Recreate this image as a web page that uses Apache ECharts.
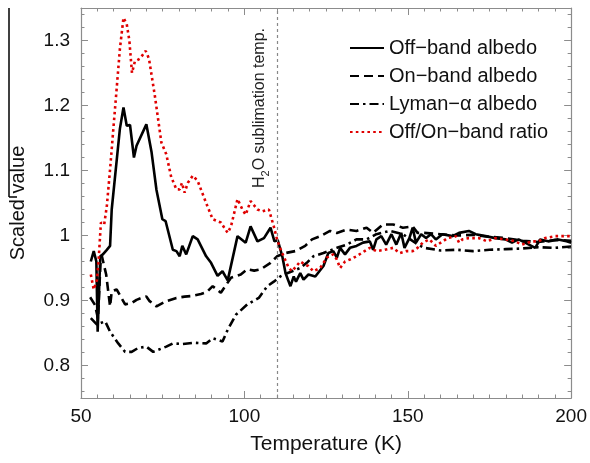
<!DOCTYPE html>
<html>
<head>
<meta charset="utf-8">
<script src="https://cdn.jsdelivr.net/npm/echarts/dist/echarts.min.js"></script>
<style>
html,body{margin:0;padding:0;background:#fff;}
#chart{width:590px;height:463px;}
</style>
</head>
<body>
<div id="chart"></div>
<script>
// ---- data ----
var seriesNames = ['Off\u2212band albedo', 'On\u2212band albedo', 'Lyman\u2212\u03b1 albedo', 'Off/On\u2212band ratio'];

var offT = [53.0,53.9,54.7,55.1,55.9,56.7,57.9,58.9,59.4,61.9,63.0,64.0,65.0,66.2,67.0,70.0,71.6,73.1,74.9,75.9,78.1,79.2,80.2,81.0,82.2,84.2,85.7,88.3,89.8,91.8,93.3,94.9,97.9,100.4,101.9,104.0,106.0,108.0,109.2,110.2,111.6,112.6,114.1,115.1,115.8,117.1,118.1,119.6,121.7,124.2,125.7,127.2,128.3,129.3,130.8,132.3,134.3,136.3,138.4,139.4,140.4,141.9,143.4,145.0,146.5,148.0,149.0,150.5,151.5,152.5,154.1,155.6,157.1,158.6,160.6,163.7,165.7,168.7,170.8,173.8,176.8,179.9,181.9,183.9,185.9,189.0,190.5,193.0,196.0,198.6,200.0];
var offV = [0.960,0.976,0.960,0.852,0.968,0.971,0.978,0.984,1.040,1.164,1.197,1.169,1.170,1.120,1.138,1.171,1.128,1.070,1.025,1.022,0.978,0.976,0.968,0.984,0.971,0.999,0.994,0.968,0.958,0.938,0.945,0.931,0.999,0.989,1.014,0.991,0.996,1.012,0.991,0.993,0.968,0.942,0.922,0.937,0.929,0.942,0.932,0.940,0.937,0.953,0.973,0.976,0.966,0.981,0.971,0.981,0.984,0.989,0.991,0.978,0.994,0.999,0.986,1.002,0.986,1.004,0.981,0.996,1.012,0.989,1.002,0.996,1.002,0.994,1.002,0.999,1.004,1.007,1.002,0.999,0.996,0.994,0.989,0.994,0.989,0.981,0.994,0.991,0.994,0.991,0.989];

var onT = [52.8,54.3,55.2,56.0,56.4,57.7,58.9,59.4,60.9,63.5,65.5,67.0,68.5,70.0,71.0,73.1,76.1,79.2,81.7,84.0,86.7,88.5,90.3,92.8,95.9,98.9,100.9,103.0,105.0,108.0,110.0,112.6,115.6,118.6,120.7,123.2,126.2,128.3,131.3,134.3,137.4,139.4,142.4,145.5,148.5,151.5,153.0,155.0,160.0,165.0,170.0,175.0,180.0,185.0,190.0,195.0,200.0];
var onV = [0.905,0.893,0.872,0.962,0.968,0.940,0.891,0.914,0.917,0.894,0.896,0.901,0.904,0.906,0.899,0.891,0.899,0.904,0.906,0.907,0.910,0.913,0.922,0.912,0.935,0.940,0.948,0.946,0.948,0.958,0.968,0.973,0.976,0.984,0.994,0.999,1.007,1.004,1.009,1.007,1.012,1.004,1.017,1.017,1.012,1.014,1.004,1.004,1.002,1.000,1.001,0.998,0.996,0.992,0.990,0.993,0.992];

var lyT = [53.0,54.9,57.4,58.9,61.4,63.5,65.5,67.5,70.0,72.1,73.6,76.1,78.1,81.2,84.7,88.3,90.3,93.3,94.9,97.4,100.9,104.4,107.0,109.0,111.0,113.1,117.1,119.1,121.1,124.2,128.3,131.3,134.3,137.4,140.4,144.5,148.5,152.5,155.0,160.0,165.0,170.0,175.0,180.0,185.0,190.0,195.0,200.0];
var lyV = [0.873,0.863,0.868,0.852,0.834,0.821,0.821,0.827,0.829,0.821,0.824,0.829,0.834,0.833,0.835,0.834,0.842,0.837,0.855,0.878,0.894,0.904,0.922,0.929,0.937,0.942,0.950,0.958,0.968,0.973,0.981,0.986,0.994,0.994,1.002,1.007,1.002,0.988,0.981,0.977,0.978,0.976,0.978,0.979,0.980,0.982,0.981,0.983];

var ratT = [53.0,53.9,54.9,55.4,56.1,57.1,57.9,58.9,59.9,60.9,61.9,63.0,64.0,64.8,65.6,66.5,68.0,69.8,70.8,72.6,74.6,76.1,77.6,79.2,80.2,80.9,81.7,82.7,84.2,85.7,88.3,90.3,92.8,94.9,95.9,97.9,99.4,100.4,101.9,104.0,105.5,107.5,109.0,110.0,111.0,112.0,113.6,114.6,117.1,118.6,119.6,121.1,123.2,125.2,127.2,128.3,129.3,130.8,132.3,134.3,136.8,138.4,140.4,142.9,145.5,147.5,149.5,151.5,153.0,154.6,156.6,158.6,160.1,162.2,164.7,165.7,166.7,168.7,171.8,174.3,176.8,179.9,182.9,184.9,188.0,190.0,192.0,195.1,197.6,200.0];
var ratV = [0.940,0.917,0.932,0.963,1.020,1.017,1.045,1.102,1.164,1.225,1.287,1.335,1.325,1.300,1.250,1.268,1.272,1.284,1.272,1.215,1.143,1.125,1.090,1.071,1.071,1.081,1.066,1.081,1.092,1.084,1.050,1.025,1.020,1.004,1.014,1.056,1.040,1.032,1.053,1.040,1.037,1.040,1.014,0.994,0.980,0.968,0.950,0.945,0.960,0.955,0.953,0.945,0.950,0.966,0.971,0.963,0.950,0.960,0.963,0.968,0.976,0.981,0.976,0.978,0.981,0.973,0.976,0.976,0.981,0.989,0.994,0.984,0.989,0.996,0.999,0.989,0.994,0.996,0.996,0.991,0.996,0.994,0.991,0.986,0.991,0.991,0.996,0.999,0.999,0.999];

var xMin = 50, xMax = 200, xStep = 50;
var yMin = 0.75, yMax = 1.35;
var sublimationT = 110;
var xTitle = 'Temperature (K)';
var yTitle = 'Scaled value';

function zip(a, b) { return a.map(function (v, i) { return [v, b[i]]; }); }

var FONT = 'Liberation Sans, Arial, Helvetica, sans-serif';
var frameColor = '#8c8c8c';

var chart = echarts.init(document.getElementById('chart'), null, { renderer: 'canvas' });

function axisBase(extra) {
  var o = {
    type: 'value',
    axisLine: { show: true, onZero: false, lineStyle: { color: frameColor, width: 1.2 } },
    axisTick: { show: true, inside: true, length: 7, lineStyle: { color: frameColor, width: 1 } },
    minorTick: { show: true, length: 3.5, lineStyle: { color: frameColor, width: 1 } },
    splitLine: { show: false },
    minorSplitLine: { show: false }
  };
  for (var k in extra) o[k] = extra[k];
  return o;
}

var option = {
  animation: false,
  backgroundColor: '#fff',
  grid: { left: 79, right: 17, top: 8, bottom: 65, containLabel: false },
  xAxis: [
    axisBase({
      min: xMin, max: xMax, interval: xStep, position: 'bottom',
      minorTick: { show: true, splitNumber: 10, length: 3.5, lineStyle: { color: frameColor, width: 1 } },
      axisLabel: { show: true, margin: 9, fontSize: 19, color: '#111', fontFamily: FONT },
      name: xTitle, nameLocation: 'middle', nameGap: 36,
      nameTextStyle: { fontSize: 21, color: '#111', fontFamily: FONT }
    }),
    axisBase({
      min: xMin, max: xMax, interval: xStep, position: 'top',
      minorTick: { show: true, splitNumber: 10, length: 3.5, lineStyle: { color: frameColor, width: 1 } },
      axisLabel: { show: false }
    })
  ],
  yAxis: [
    axisBase({
      min: yMin, max: yMax, position: 'left',
      minorTick: { show: true, splitNumber: 5, length: 3.5, lineStyle: { color: frameColor, width: 1 } },
      axisLabel: { show: true, margin: 11, fontSize: 19, color: '#111', fontFamily: FONT,
        showMinLabel: false, showMaxLabel: false },
      name: yTitle, nameLocation: 'middle', nameGap: 53,
      nameTextStyle: { fontSize: 20, color: '#111', fontFamily: FONT }
    }),
    axisBase({
      min: yMin, max: yMax, position: 'right',
      minorTick: { show: true, splitNumber: 5, length: 3.5, lineStyle: { color: frameColor, width: 1 } },
      axisLabel: { show: false }
    })
  ],
  legend: {
    orient: 'vertical',
    left: 344, top: 33,
    itemWidth: 34, itemHeight: 14, itemGap: 8,
    itemStyle: { opacity: 0 },
    textStyle: { fontSize: 20, color: '#111', fontFamily: FONT, lineHeight: 20 },
    data: seriesNames
  },
  series: [
    {
      name: seriesNames[0], type: 'line', symbol: 'none', z: 4,
      lineStyle: { color: '#000', width: 2.6, type: 'solid' },
      itemStyle: { color: '#000' },
      data: zip(offT, offV),
      markLine: {
        silent: true, symbol: 'none',
        lineStyle: { color: '#888', width: 1.2, type: [3, 3] },
        label: {
          show: true, position: 'insideEndTop', distance: [20, 6],
          formatter: '{n|H}{s|2}{n|O sublimation temp.}',
          color: '#222', fontFamily: FONT,
          rich: {
            n: { fontSize: 16, lineHeight: 22, color: '#222', fontFamily: FONT },
            s: { fontSize: 11, lineHeight: 11, verticalAlign: 'bottom', color: '#222', fontFamily: FONT }
          }
        },
        data: [{ xAxis: sublimationT }]
      }
    },
    {
      name: seriesNames[1], type: 'line', symbol: 'none', z: 3,
      lineStyle: { color: '#000', width: 2.6, type: [9, 5] },
      itemStyle: { color: '#000' },
      data: zip(onT, onV)
    },
    {
      name: seriesNames[2], type: 'line', symbol: 'none', z: 3,
      lineStyle: { color: '#000', width: 2.6, type: [9, 4, 2.5, 4] },
      itemStyle: { color: '#000' },
      data: zip(lyT, lyV)
    },
    {
      name: seriesNames[3], type: 'line', symbol: 'none', z: 5,
      lineStyle: { color: '#e00000', width: 2.6, type: [2.6, 3.2] },
      itemStyle: { color: '#e00000' },
      data: zip(ratT, ratV)
    }
  ],
  graphic: [
    { type: 'line', shape: { x1: 9, y1: 8, x2: 9, y2: 197 }, style: { stroke: '#000', lineWidth: 1.5 } },
    { type: 'line', shape: { x1: 9, y1: 197, x2: 17, y2: 197 }, style: { stroke: '#000', lineWidth: 1.5 } }
  ]
};

chart.setOption(option);
</script>
</body>
</html>
